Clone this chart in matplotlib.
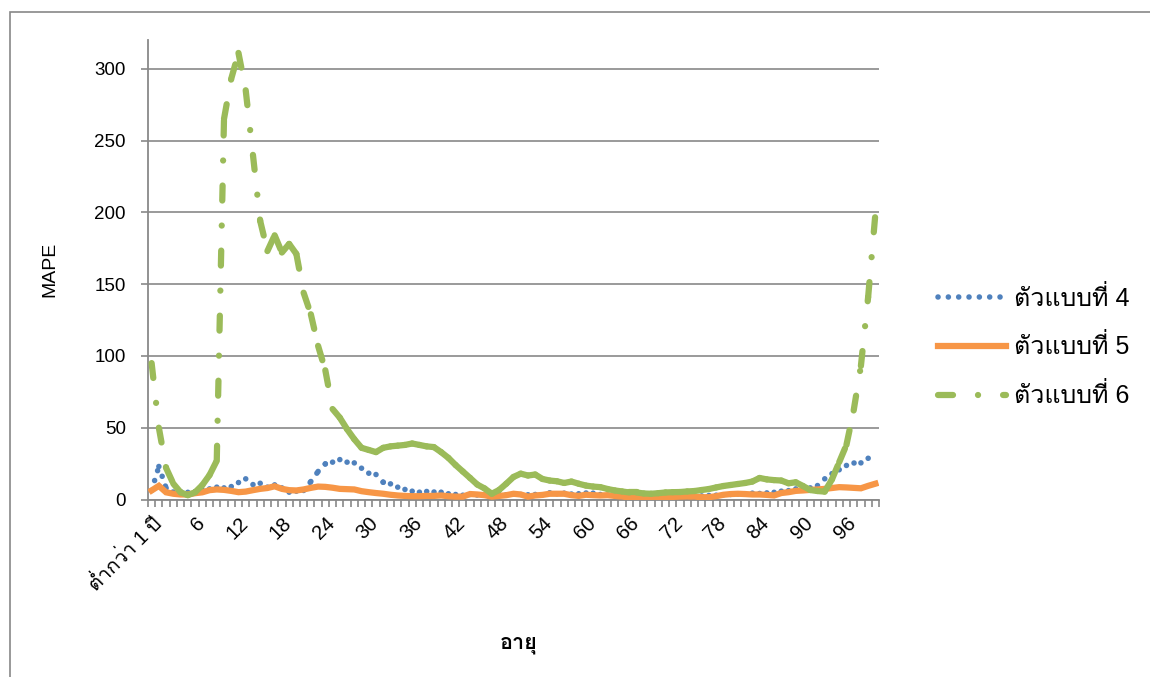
import matplotlib
matplotlib.use("Agg")
import matplotlib.pyplot as plt
import numpy as np
from matplotlib import font_manager
from matplotlib.ft2font import FT2Font
from matplotlib.collections import LineCollection
from matplotlib.lines import Line2D
from matplotlib.patches import Rectangle

# ---- ข้อมูล ----
ages = ["ต่ำกว่า 1 ปี"] + [str(a) for a in range(1, 101)]
series_names = ["ตัวแบบที่ 4", "ตัวแบบที่ 5", "ตัวแบบที่ 6"]

model4 = [6.3, 23, 8, 5, 5, 5, 5.5, 6.5, 7.4, 8.6,
          8.1, 9, 11.8, 14.4, 10.4, 11.3, 8.6, 10.2, 8.1, 5.1,
          5.8, 6.3, 12.5, 19.5, 24.8, 26, 27.8, 26, 25.5, 21.8,
          18.3, 17.4, 12, 10.9, 8.6, 7, 5.8, 5.1, 5.6, 5.1,
          5.1, 4, 3.5, 3, 3.5, 3, 3, 3.5, 3.5, 3.3,
          3.5, 3.5, 3.3, 3.5, 3.3, 4.7, 4, 4.4, 3.8, 4,
          4.4, 4.4, 3.5, 3, 2.5, 1.5, 2, 2, 2.3, 2,
          2.5, 2.7, 2.8, 2.5, 2, 1.5, 2.5, 2.8, 3, 3.3,
          3.5, 3.8, 4, 4.4, 4.2, 4.6, 5, 5.8, 6.2, 7.4,
          7.6, 8.1, 9.7, 14.4, 18, 20.7, 23.7, 25.5, 25.5, 28.7,
          30]
model5 = [6.3, 9.5, 5, 4, 3.5, 3.5, 4.4, 5, 6.5, 7,
          6.7, 6, 5.1, 5.5, 6.5, 7.4, 8, 9.2, 7.4, 6.5,
          6.3, 7, 8.1, 9, 8.8, 8.2, 7.4, 7.2, 7, 5.8,
          5.1, 4.5, 4, 3.3, 2.8, 2.5, 2.3, 2.3, 2.5, 2.5,
          2.8, 2.3, 2, 2, 3.8, 3.5, 3, 2, 2.5, 3,
          4, 3.5, 2, 2.8, 3.2, 4, 4, 4, 3, 2.5,
          3.3, 3, 2.8, 3, 2.5, 2, 1.5, 1, 1, 1,
          1, 1.5, 1.8, 2, 2.1, 2, 1.6, 1.6, 2.3, 3.3,
          3.8, 4, 3.8, 3.5, 3.5, 3.2, 2.8, 4.5, 5.1, 6,
          6.3, 6.7, 7, 7.4, 8, 8.6, 8.4, 8.1, 7.8, 9.5,
          11]
model6 = [95, 50, 22, 11, 5, 3, 5, 10, 17, 27,
          265, 293, 311, 285, 240, 194, 173, 184, 172, 178,
          171, 144, 129, 107, 90, 63, 57, 49, 42, 36,
          34.5, 33, 36, 37, 37.5, 38, 39, 38, 37, 36.5,
          33, 29, 24, 19.5, 15, 10.4, 7.7, 4, 6.6, 11,
          15.7, 18, 16.7, 17.4, 14.3, 13.2, 12.7, 11.5, 12.5, 11,
          9.7, 9, 8.6, 7.3, 6.3, 5.6, 4.9, 4.9, 4.2, 4,
          4.4, 4.9, 5.1, 5.2, 5.6, 5.9, 6.6, 7.3, 8.4, 9.4,
          10.1, 10.8, 11.5, 12.5, 15, 14, 13.5, 13.2, 11.3, 12,
          9.4, 6.6, 5.9, 5.5, 14, 26, 38, 62, 93, 141,
          199]

c_blue = "#4F81BD"
c_orange = "#F79646"
c_green = "#9BBB59"
c_grid = "#898989"

# ---- ฟอนต์ไทย: หาฟอนต์ที่มีตัวอักษรไทย ----
thai_font = "DejaVu Sans"
for f in font_manager.fontManager.ttflist:
    try:
        if FT2Font(f.fname).get_char_index(0x0E15):
            thai_font = f.name
            break
    except Exception:
        pass
plt.rcParams["font.family"] = ["Liberation Sans", thai_font]

fig = plt.figure(figsize=(11.5, 6.77), dpi=100)
ax = fig.add_axes([148 / 1150, 1 - 499.5 / 677, 731 / 1150, 459.5 / 677])

x = np.arange(len(ages))


def segments(y):
    pts = np.column_stack([x, y])
    return np.stack([pts[:-1], pts[1:]], axis=1)


# จุดไข่ปลา / เส้นประ เริ่มใหม่ทุกช่วง (แบบ Excel)
blue_ls = (0, (0.01, 1.85))
green_ls = (0, (2.4, 4.0, 0.01, 4.0))

ax.add_collection(LineCollection(segments(model4), colors=c_blue, linewidths=4.0,
                                 linestyles=[blue_ls], capstyle="round", zorder=3))
ax.plot(x, model5, color=c_orange, lw=4.5, solid_joinstyle="miter", zorder=4)
ax.add_collection(LineCollection(segments(model6), colors=c_green, linewidths=4.5,
                                 linestyles=[green_ls], capstyle="round",
                                 joinstyle="round", zorder=5))

ax.set_xlim(-0.5, len(ages) - 0.5)
ax.set_ylim(0, 320)

# ---- แกน ----
ax.set_yticks(range(0, 301, 50))
ax.yaxis.grid(True, color=c_grid, lw=1.2)
ax.set_axisbelow(True)
ax.tick_params(axis="y", length=5, width=1.2, color=c_grid, pad=11, labelsize=13.5)

label_pos = list(range(0, len(ages), 6))
ax.set_xticks(label_pos)
ax.set_xticklabels([ages[i] for i in label_pos], rotation=45, ha="right",
                   rotation_mode="anchor", fontsize=14.5)
ax.set_xticks(np.arange(-0.5, len(ages), 1), minor=True)
ax.tick_params(axis="x", which="major", length=0, pad=10)
ax.tick_params(axis="x", which="minor", length=5, width=1.2, color=c_grid)

for s in ["top", "right"]:
    ax.spines[s].set_visible(False)
for s in ["left", "bottom"]:
    ax.spines[s].set_color(c_grid)
    ax.spines[s].set_linewidth(1.3)

ax.set_ylabel("MAPE", fontsize=14)
ax.yaxis.set_label_coords(-0.123, 0.5)
ax.set_xlabel("อายุ", fontsize=15.5, fontweight="bold")
ax.xaxis.set_label_coords(0.507, -0.29)

# ---- คำอธิบายสัญลักษณ์ ----
handles = [
    Line2D([], [], color=c_blue, lw=4.0, linestyle=blue_ls, dash_capstyle="round"),
    Line2D([], [], color=c_orange, lw=4.5),
    Line2D([], [], color=c_green, lw=4.5, linestyle=green_ls, dash_capstyle="round"),
]
fig.legend(handles, series_names, loc="center left",
           bbox_to_anchor=(915 / 1150, 1 - 347 / 677), frameon=False,
           fontsize=18, handlelength=2.75, handletextpad=0.3, labelspacing=0.95)

# กรอบรอบแผนภูมิ
fig.patches.append(Rectangle((10 / 1150, -0.1), 1.2, 1 - 12 / 677 + 0.1,
                             transform=fig.transFigure, fill=False,
                             edgecolor="#888888", lw=1.2))

fig.savefig("out.png", dpi=100)
